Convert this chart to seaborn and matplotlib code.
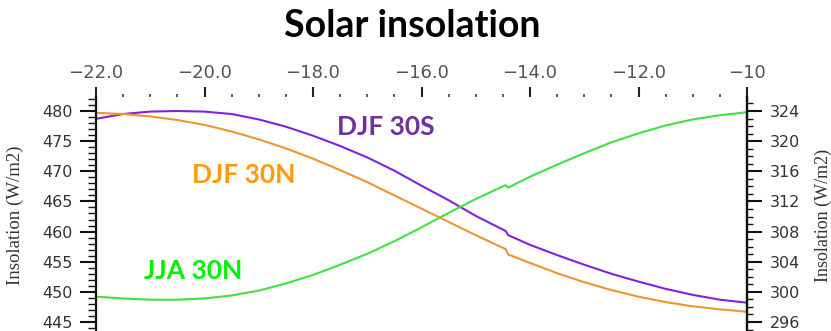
import numpy as np
import pandas as pd
import matplotlib
matplotlib.use("Agg")
import matplotlib.pyplot as plt
from matplotlib.ticker import MultipleLocator, FixedLocator, FixedFormatter
import seaborn as sns

# Time axis (ka) and insolation series (W/m2)
time_ka = [-22.0, -21.5, -21.0, -20.5, -20.0, -19.5, -19.0, -18.5, -18.0, -17.5,
           -17.0, -16.5, -16.0, -15.5, -15.0, -14.45, -14.4, -14.0, -13.5, -13.0,
           -12.5, -12.0, -11.5, -11.0, -10.5, -10.0]

djf_30s = [478.7, 479.5, 479.9, 480.0, 479.9, 479.5, 478.6, 477.4, 475.9, 474.2,
           472.3, 470.1, 467.6, 465.2, 462.6, 460.1, 459.4, 457.8, 456.1, 454.5,
           453.0, 451.7, 450.5, 449.5, 448.7, 448.2]

djf_30n = [479.7, 479.5, 479.1, 478.5, 477.7, 476.6, 475.3, 473.8, 472.1, 470.2,
           468.2, 466.0, 463.8, 461.6, 459.4, 457.1, 456.2, 454.8, 453.1, 451.6,
           450.3, 449.2, 448.3, 447.6, 447.1, 446.7]

jja_30n = [449.2, 448.9, 448.7, 448.7, 448.9, 449.4, 450.2, 451.4, 452.8, 454.5,
           456.3, 458.4, 460.7, 463.1, 465.4, 467.7, 467.3, 469.1, 471.1, 473.0,
           474.8, 476.3, 477.6, 478.6, 479.3, 479.8]

series_names = ["DJF 30S", "DJF 30N", "JJA 30N"]
line_colors = ["#7F22E0", "#EE9530", "#3FE23F"]
label_colors = ["#7030A0", "#FF9A0A", "#00F000"]

top_ticks = [-22.0, -20.0, -18.0, -16.0, -14.0, -12.0, -10.0]
top_labels = ["\u221222.0", "\u221220.0", "\u221218.0", "\u221216.0",
              "\u221214.0", "\u221212.0", "\u221210"]

left_ticks = [445, 450, 455, 460, 465, 470, 475, 480]
right_ticks = [296, 300, 304, 308, 312, 316, 320, 324]

df = pd.DataFrame({
    "time": time_ka * 3,
    "insolation": djf_30s + djf_30n + jja_30n,
    "series": sum([[n] * len(time_ka) for n in series_names], []),
})

sns.set_style("white")
plt.rcParams["font.family"] = ["DejaVu Sans"]

W, H = 831, 331
fig = plt.figure(figsize=(W / 100, H / 100), dpi=100)
x0, x1, ytop = 96, 747, 97
ax = fig.add_axes([x0 / W, 0, (x1 - x0) / W, (H - ytop) / H])

sns.lineplot(data=df, x="time", y="insolation", hue="series",
             palette=dict(zip(series_names, line_colors)),
             linewidth=1.5, ax=ax, legend=False, sort=False,
             estimator=None)

# pixel scale of the value axis: 480 at y=111, 445 at y=322
ppu = (322 - 111) / 35.0
ylo = 480 - (H - 111) / ppu
yhi = 480 + (111 - ytop) / ppu
ax.set_xlim(-22, -10)
ax.set_ylim(ylo, yhi)
ax.set_xlabel("")
ax.set_ylabel("")

for s in ["top", "bottom"]:
    ax.spines[s].set_visible(False)
for s in ["left", "right"]:
    ax.spines[s].set_visible(True)
    ax.spines[s].set_color("#111111")
    ax.spines[s].set_linewidth(1.6)

# top time axis
ax.xaxis.set_ticks_position("top")
ax.xaxis.set_major_locator(FixedLocator(top_ticks))
ax.xaxis.set_major_formatter(FixedFormatter(top_labels))
ax.xaxis.set_minor_locator(MultipleLocator(0.5))
ax.tick_params(axis="x", which="major", direction="out", length=7.2, width=1.5,
               color="#222222", pad=3.5, labelsize=13, labelcolor="#555555",
               top=True, bottom=False, labeltop=True, labelbottom=False)
ax.tick_params(axis="x", which="minor", direction="out", length=2.2, width=1.2,
               color="#444444", top=True, bottom=False)

# left value axis
ax.yaxis.set_major_locator(FixedLocator(left_ticks))
ax.yaxis.set_minor_locator(MultipleLocator(1))
ax.tick_params(axis="y", which="major", direction="out", length=11.5, width=1.5,
               color="#111111", pad=5.5, labelsize=11.5, labelcolor="#333333",
               left=True, right=False)
ax.tick_params(axis="y", which="minor", direction="out", length=5.8, width=1.0,
               color="#111111", left=True, right=False)
ax.set_ylabel("Insolation (W/m2)", family="Liberation Serif", fontsize=13.5,
              color="#333333")
ax.yaxis.set_label_coords((24 - x0) / (x1 - x0), (H - 215) / (H - ytop))

# right value axis
ax2 = ax.twinx()
ax2.set_ylim(296 + 0.8 * (ylo - 445), 296 + 0.8 * (yhi - 445))
ax2.yaxis.set_major_locator(FixedLocator(right_ticks))
ax2.yaxis.set_minor_locator(MultipleLocator(1))
ax2.tick_params(axis="y", which="major", direction="out", length=10.8, width=1.5,
                color="#111111", pad=5.5, labelsize=11.5, labelcolor="#333333")
ax2.tick_params(axis="y", which="minor", direction="out", length=4.3, width=1.0,
                color="#111111")
for s in ["top", "bottom", "left"]:
    ax2.spines[s].set_visible(False)
ax2.spines["right"].set_color("#111111")
ax2.spines["right"].set_linewidth(1.6)
ax2.set_ylabel("Insolation (W/m2)", family="Liberation Serif", fontsize=13,
               color="#333333")
ax2.yaxis.set_label_coords((815 - x0) / (x1 - x0), (H - 215) / (H - ytop))

# series labels
label_pos = {"DJF 30S": (386, 127), "DJF 30N": (244, 175), "JJA 30N": (193, 271)}
for name, col in zip(series_names, label_colors):
    px, py = label_pos[name]
    fig.text(px / W, 1 - py / H, name, family="Lato", fontweight="bold",
             fontsize=19, color=col, ha="center", va="center")

fig.text(412 / W, 1 - 37 / H, "Solar insolation", family="Lato",
         fontweight="bold", fontsize=27, color="black", ha="center",
         va="baseline")

fig.savefig("out.png", dpi=100, facecolor="white")
